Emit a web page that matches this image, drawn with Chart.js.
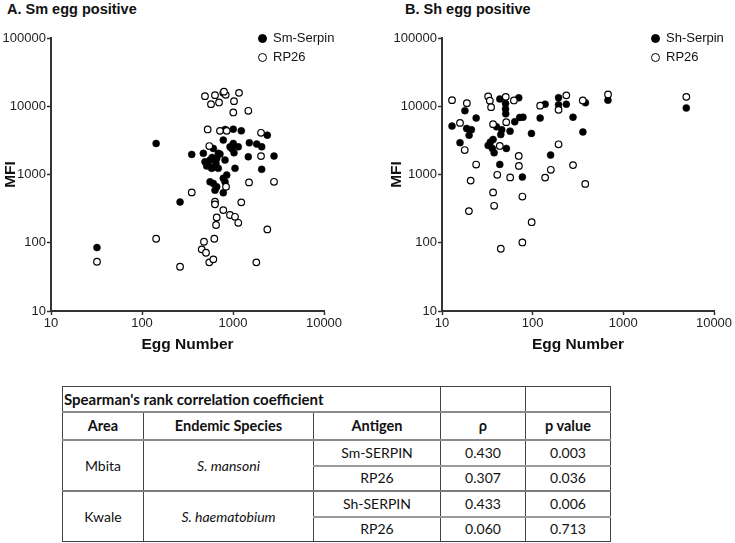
<!DOCTYPE html>
<html>
<head>
<meta charset="utf-8">
<script src="https://cdn.jsdelivr.net/npm/chart.js@4.4.1/dist/chart.umd.min.js"></script>
<style>
  body { margin: 0; background: #fff; width: 735px; height: 543px; position: relative; overflow: hidden;
         font-family: "Liberation Sans", Arial, sans-serif; color: #111; }
  canvas { position: absolute; top: 0; }
  .panel-title { position: absolute; top: 1px; font-weight: bold; font-size: 14.5px; white-space: nowrap; }
  .legend { position: absolute; top: 28px; font-size: 13px; }
  .legend .item { position: relative; height: 19px; line-height: 19px; padding-left: 11px; white-space: nowrap; }
  .legend .dot { position: absolute; left: -4px; top: 6px; width: 7px; height: 7px; border-radius: 50%;
                 border: 1.2px solid #000; box-sizing: content-box; }
  #corr { position: absolute; left: 62px; top: 386px; width: 549px; border-collapse: collapse; table-layout: fixed;
          font-family: Lato, "Open Sans", sans-serif; font-size: 14px; color: #111; line-height: 1; }
  #corr td, #corr th { border: 1px solid #444; text-align: center; padding: 0; height: 23.5px; }
  #corr th { font-weight: bold; font-size: 14.5px; height: 26px; }
  #corr tr.ttl td { height: 24px; }
  #corr tr.hd th { border-top: 2px solid #8a8a8a; border-bottom: 2px solid #8a8a8a; }
  #corr td.ttl { text-align: left; padding-left: 1px; font-weight: bold; font-size: 15px; }
  #corr tr.sub td { border-top: 2px solid #9a9a9a; }
  #corr tr.grp td { border-top: 2px solid #7a7a7a; }
</style>
</head>
<body>
<div class="panel-title" style="left:7px">A. Sm egg positive</div>
<div class="panel-title" style="left:405px">B. Sh egg positive</div>
<canvas id="chartA" width="367" height="360" style="left:0"></canvas>
<canvas id="chartB" width="368" height="360" style="left:367px"></canvas>
<div class="legend" id="legendA" style="left:262px"></div>
<div class="legend" id="legendB" style="left:655px"></div>
<table id="corr"></table>
<script>
// A. Mbita, S. mansoni egg positive
var smSerpinEgg = [32, 143, 262, 352, 472, 492, 559, 514, 608, 662, 608, 689, 583, 689, 782, 817, 821, 1007, 1233,
  968, 1007, 1143, 1026, 1052, 1511, 1822, 2066, 1473, 2383, 2823, 2066, 559, 608, 662, 782, 853, 817, 634, 782,
  719, 530, 650, 590, 927];
var smSerpinMfi = [85, 2850, 395, 1970, 2040, 1535, 1625, 1330, 1270, 1720, 2410, 2040, 1230, 1230, 3190, 1625, 4570,
  4620, 4360, 2410, 2850, 2545, 2080, 1230, 2910, 2790, 2545, 1820, 3775, 1860, 1190, 780, 740, 660, 880, 980, 780,
  590, 540, 1990, 1480, 1450, 1780, 2545];
var smRp26Egg = [492, 634, 782, 832, 796, 573, 702, 1026, 1164, 1007, 1473, 527, 719, 853, 2032, 549, 2032, 1500,
  2823, 838, 352, 634, 634, 1233, 782, 927, 1052, 1143, 662, 651, 2383, 480, 623, 453, 505, 549, 608, 1804, 143,
  262, 32];
var smRp26Mfi = [14060, 14540, 15710, 14690, 16360, 10730, 11370, 11880, 15710, 8110, 8570, 4570, 4360, 4360, 4080,
  2610, 1860, 766, 782, 661, 547, 399, 365, 391, 301, 255, 240, 196, 235, 182, 157, 103.5, 114.5, 80, 71.4, 51.6,
  57.1, 51.6, 114.5, 44.5, 52.7];

// B. Kwale, S. haematobium egg positive
var shSerpinEgg = [12.9, 15.8, 17.9, 18.7, 21.1, 19.9, 23.8, 32.3, 34.1, 36.6, 35.9, 37.6, 39.9, 43.4, 44.5, 45.6,
  50.2, 50.2, 50.5, 51.3, 56.3, 63.4, 71.9, 78.2, 70.2, 43.4, 77.0, 97.0, 120.9, 137.2, 157.7, 193, 193, 235, 278.6,
  358, 382, 676, 4950];
var shSerpinMfi = [5115, 2930, 8625, 4730, 4540, 3775, 6700, 2670, 2980, 3265, 2410, 2080, 4990, 12790, 3840, 4540,
  10990, 9120, 7740, 2410, 4320, 5910, 6850, 6920, 13270, 1406, 916, 4000, 6700, 10730, 1923, 13370, 10490, 10730,
  6920, 4205, 11290, 12280, 9440];
var shRp26Egg = [12.9, 18.8, 15.8, 17.8, 20.7, 23.8, 32.3, 33.7, 34.8, 36.6, 36.6, 40.7, 43.4, 50.5, 51.1, 56.5,
  62.1, 70.2, 70.5, 77.0, 120.9, 137.2, 158.5, 193, 193, 235, 278.6, 357, 380, 678, 4950, 19.8, 37.6, 97.5, 77.0,
  44.5];
var shRp26Mfi = [12280, 11100, 5700, 2280, 814, 1400, 13910, 12080, 9700, 5470, 547, 990, 2620, 13740, 5850, 907,
  12160, 1870, 1336, 475, 10200, 901, 1172, 8860, 2770, 14440, 1374, 12160, 728, 14890, 13740, 291, 348, 200, 101,
  81.7];

var xTicks = [10, 100, 1000, 10000];
var yTicks = [10, 100, 1000, 10000, 100000];

// table
var areas = ['Mbita', 'Kwale'];
var species = ['S. mansoni', 'S. haematobium'];
var antigens = [['Sm-SERPIN', 'RP26'], ['Sh-SERPIN', 'RP26']];
var rhoValues = [['0.430', '0.307'], ['0.433', '0.060']];
var pValues = [['0.003', '0.036'], ['0.006', '0.713']];

var FONT = '"Liberation Sans", Arial, sans-serif';

function points(xs, ys) {
  return xs.map(function (x, i) { return { x: x, y: ys[i] }; });
}

function logAxis(min, max, ticks, title, fixedSize, horizontal) {
  return {
    type: 'logarithmic',
    min: min,
    max: max,
    afterBuildTicks: function (axis) {
      axis.ticks = ticks.map(function (v) { return { value: v }; });
    },
    afterFit: function (axis) {
      if (horizontal) axis.height = fixedSize; else axis.width = fixedSize;
    },
    ticks: {
      autoSkip: false, maxRotation: 0, padding: 1, color: '#222',
      font: { family: FONT, size: 13 },
      callback: function (v) { return String(Number(v)); }
    },
    grid: { display: true, drawOnChartArea: false, drawTicks: true, tickLength: 4, tickWidth: 1.5, tickColor: '#333' },
    border: { display: true, color: '#333', width: 2 },
    title: {
      display: true, text: title, color: '#111',
      font: { family: FONT, size: 15.5, weight: 'bold' },
      padding: horizontal ? { top: 0, bottom: 6 } : { top: 1, bottom: 0 }
    }
  };
}

function makeScatter(canvasId, serpinLabel, serpinPts, rpPts, padLeft, yWidth, padRight) {
  var ctx = document.getElementById(canvasId).getContext('2d');
  return new Chart(ctx, {
    type: 'scatter',
    data: {
      datasets: [{
        label: serpinLabel,
        data: serpinPts,
        order: 1,
        pointRadius: 3.5,
        pointBackgroundColor: '#000',
        pointBorderColor: '#000',
        pointBorderWidth: 0.5
      }, {
        label: 'RP26',
        data: rpPts,
        order: 0,
        pointRadius: 3.3,
        pointBackgroundColor: '#fff',
        pointBorderColor: '#000',
        pointBorderWidth: 1.2
      }]
    },
    options: {
      responsive: false,
      animation: false,
      layout: { padding: { top: 38, left: padLeft, right: padRight, bottom: 0 } },
      plugins: { legend: { display: false }, tooltip: { enabled: false } },
      scales: {
        x: logAxis(10, 10000, xTicks, 'Egg Number', 49, true),
        y: logAxis(10, 100000, yTicks, 'MFI', yWidth, false)
      }
    }
  });
}

function buildLegend(id, chart) {
  var box = document.getElementById(id);
  chart.data.datasets.forEach(function (ds) {
    var item = document.createElement('div');
    item.className = 'item';
    var dot = document.createElement('span');
    dot.className = 'dot';
    dot.style.background = ds.pointBackgroundColor;
    item.appendChild(dot);
    item.appendChild(document.createTextNode(ds.label));
    box.appendChild(item);
  });
}

function buildTable() {
  var t = document.getElementById('corr');
  var widths = [81, 170, 127, 85, 85];
  var html = '<colgroup>' + widths.map(function (w) { return '<col style="width:' + w + 'px">'; }).join('') + '</colgroup>';
  html += '<tr class="ttl"><td colspan="3" class="ttl">Spearman\'s rank correlation coefficient</td><td></td><td></td></tr>';
  html += '<tr class="hd"><th>Area</th><th>Endemic Species</th><th>Antigen</th><th>\u03c1</th><th>p value</th></tr>';
  areas.forEach(function (area, i) {
    antigens[i].forEach(function (ag, j) {
      html += '<tr class="' + (j === 0 ? 'grp' : 'sub') + '">';
      if (j === 0) {
        html += '<td rowspan="2">' + area + '</td><td rowspan="2"><i>' + species[i] + '</i></td>';
      }
      html += '<td>' + ag + '</td><td>' + rhoValues[i][j] + '</td><td>' + pValues[i][j] + '</td></tr>';
    });
  });
  t.innerHTML = html;
}

var chartA = makeScatter('chartA', 'Sm-Serpin', points(smSerpinEgg, smSerpinMfi), points(smRp26Egg, smRp26Mfi), 0, 51, 367 - 324);
var chartB = makeScatter('chartB', 'Sh-Serpin', points(shSerpinEgg, shSerpinMfi), points(shRp26Egg, shRp26Mfi), 19, 56, 368 - 347);
buildLegend('legendA', chartA);
buildLegend('legendB', chartB);
buildTable();
</script>
</body>
</html>
